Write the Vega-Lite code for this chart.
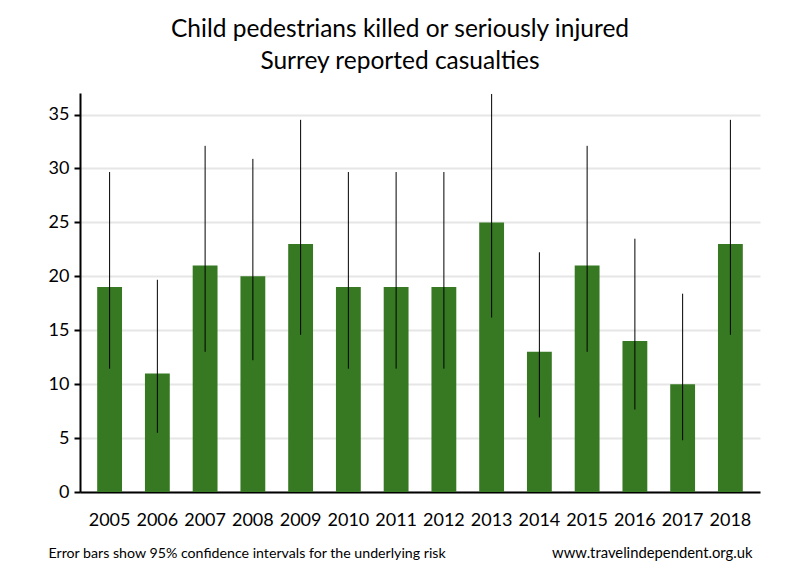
{
  "$schema": "https://vega.github.io/schema/vega-lite/v6.json",
  "width": 680,
  "height": 399,
  "autosize": "none",
  "padding": {"left": 80, "top": 93, "right": 40, "bottom": 88},
  "background": "white",
  "title": {
    "text": ["Child pedestrians killed or seriously injured", "Surrey reported casualties"],
    "font": "Lato",
    "fontSize": 24.5,
    "fontWeight": "normal",
    "color": "black",
    "anchor": "middle",
    "dx": -20,
    "offset": 19,
    "lineHeight": 32
  },
  "data": {
    "values": [
      {"year": "2005", "value": 19, "lo": 11.44, "hi": 29.67},
      {"year": "2006", "value": 11, "lo": 5.49, "hi": 19.68},
      {"year": "2007", "value": 21, "lo": 13.0, "hi": 32.1},
      {"year": "2008", "value": 20, "lo": 12.22, "hi": 30.89},
      {"year": "2009", "value": 23, "lo": 14.58, "hi": 34.51},
      {"year": "2010", "value": 19, "lo": 11.44, "hi": 29.67},
      {"year": "2011", "value": 19, "lo": 11.44, "hi": 29.67},
      {"year": "2012", "value": 19, "lo": 11.44, "hi": 29.67},
      {"year": "2013", "value": 25, "lo": 16.18, "hi": 36.91},
      {"year": "2014", "value": 13, "lo": 6.92, "hi": 22.23},
      {"year": "2015", "value": 21, "lo": 13.0, "hi": 32.1},
      {"year": "2016", "value": 14, "lo": 7.65, "hi": 23.49},
      {"year": "2017", "value": 10, "lo": 4.8, "hi": 18.39},
      {"year": "2018", "value": 23, "lo": 14.58, "hi": 34.51}
    ]
  },
  "encoding": {
    "x": {
      "field": "year",
      "type": "ordinal",
      "scale": {"paddingInner": 0.48, "paddingOuter": 0.36},
      "axis": {
        "labelAngle": 0,
        "labelFont": "Lato",
        "labelFontSize": 18,
        "labelColor": "black",
        "labelPadding": 19,
        "ticks": false,
        "domainColor": "black",
        "domainWidth": 2,
        "title": "Error bars show 95% confidence intervals for the underlying risk",
        "titleFont": "Lato",
        "titleFontSize": 14.2,
        "titleFontWeight": "normal",
        "titleColor": "black",
        "titleAnchor": "start",
        "titleAlign": "left",
        "titleBaseline": "middle",
        "titleX": -32,
        "titleY": 61
      }
    }
  },
  "layer": [
    {
      "mark": {"type": "bar", "color": "#377822"},
      "encoding": {
        "y": {
          "field": "value",
          "type": "quantitative",
          "scale": {"domain": [0, 37], "nice": false},
          "axis": {
            "values": [0, 5, 10, 15, 20, 25, 30, 35],
            "labelFont": "Lato",
            "labelFontSize": 18,
            "labelColor": "black",
            "labelPadding": 5,
            "tickColor": "black",
            "tickSize": 6,
            "tickWidth": 2,
            "domainColor": "black",
            "domainWidth": 2,
            "gridColor": "#e6e6e6",
            "gridWidth": 2,
            "title": "www.travelindependent.org.uk",
            "titleFont": "Lato",
            "titleFontSize": 14.8,
            "titleFontWeight": "normal",
            "titleColor": "black",
            "titleAngle": 0,
            "titleAlign": "right",
            "titleBaseline": "middle",
            "titleX": 672,
            "titleY": 460
          }
        }
      }
    },
    {
      "mark": {"type": "rule", "color": "black", "strokeWidth": 1},
      "encoding": {
        "y": {"field": "lo", "type": "quantitative"},
        "y2": {"field": "hi"}
      }
    }
  ],
  "config": {"view": {"stroke": null}}
}
